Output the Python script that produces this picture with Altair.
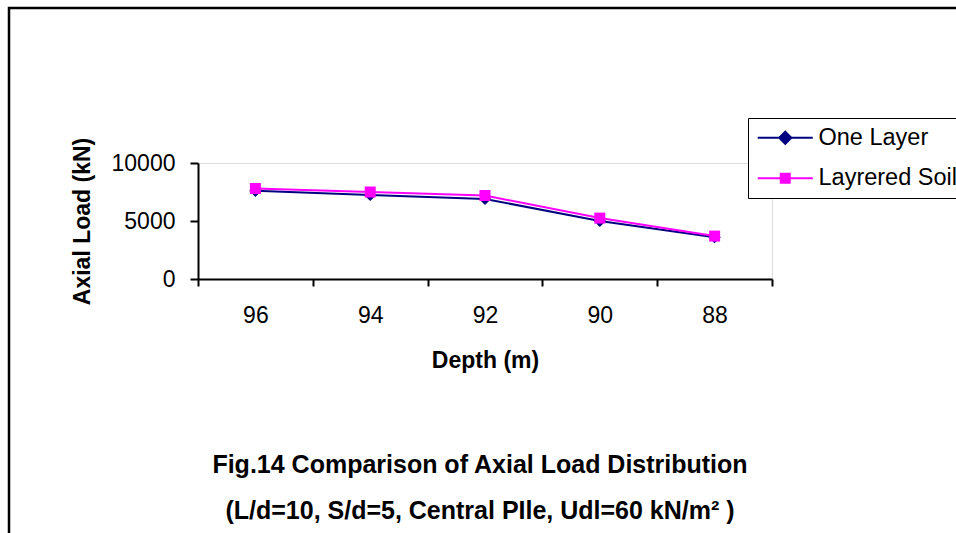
import altair as alt
import pandas as pd

depths = ["96", "94", "92", "90", "88"]
one_layer = [7600, 7250, 6900, 5000, 3600]
layered = [7800, 7500, 7200, 5250, 3700]
series_names = ["One Layer", "Layrered Soil"]
series_colors = ["#000080", "#FF00FF"]
y_ticks = [0, 5000, 10000]

rows = []
for d, v in zip(depths, one_layer):
    rows.append({"depth": d, "load": v, "series": series_names[0], "lg": series_names[0]})
for d, v in zip(depths, layered):
    rows.append({"depth": d, "load": v, "series": series_names[1], "lg": series_names[1]})
df = pd.DataFrame(rows)

FONT = "Liberation Sans"
FS = 23

x_enc = alt.X(
    "depth:N",
    sort=depths,
    bandPosition=0.5,
    scale=alt.Scale(type="band", paddingInner=0, paddingOuter=0),
    axis=alt.Axis(
        title="Depth (m)", labelAngle=0, tickBand="extent", tickSize=7,
        tickColor="black", tickWidth=2, domainColor="black", domainWidth=2,
        labelFontSize=FS, labelFont=FONT, labelColor="black", labelPadding=18,
        titleFontSize=FS, titleFont=FONT, titleFontWeight="bold", titleColor="black",
        titlePadding=22,
    ),
)
y_enc = alt.Y(
    "load:Q",
    scale=alt.Scale(domain=[0, 10000], nice=False),
    axis=alt.Axis(
        title="Axial Load (kN)", values=y_ticks, format="d", grid=False, tickSize=8,
        tickColor="black", tickWidth=2, domainColor="black", domainWidth=2,
        labelFontSize=FS, labelFont=FONT, labelColor="black", labelPadding=15,
        titleFontSize=FS, titleFont=FONT, titleFontWeight="bold", titleColor="black",
        titlePadding=17,
    ),
)
color_scale = alt.Scale(domain=series_names, range=series_colors)

base = alt.Chart(df)

lines = base.mark_line(strokeWidth=2).encode(
    x=x_enc, y=y_enc,
    color=alt.Color("series:N", scale=color_scale, legend=None),
    detail="series:N",
)
points = base.mark_point(filled=True, opacity=1).encode(
    x=x_enc, y=y_enc,
    color=alt.Color("series:N", scale=color_scale, legend=None),
    shape=alt.Shape("series:N", scale=alt.Scale(domain=series_names, range=["diamond", "square"]), legend=None),
    size=alt.Size("series:N", scale=alt.Scale(domain=series_names, range=[150, 121]), legend=None),
)

legend_paths = [
    "M-3.67,-0.133H3.67V0.133H-3.67Z M0,-1L1,0L0,1L-1,0Z",
    "M-3.67,-0.133H3.67V0.133H-3.67Z M-0.73,-0.73H0.73V0.73H-0.73Z",
]
legend_layer = base.transform_filter("false").mark_point(filled=True, opacity=1).encode(
    x=x_enc, y=y_enc,
    color=alt.Color("lg:N", scale=color_scale, legend=alt.Legend(
        title=None, orient="none", legendX=550, legendY=-45,
        strokeColor="black", fillColor="white",
        padding=8, symbolSize=225, symbolOffset=17.5, labelOffset=21.5,
        labelFontSize=23.5, labelFont=FONT, labelColor="black", rowPadding=15.5,
        labelLimit=500, symbolStrokeWidth=0,
    )),
    shape=alt.Shape("lg:N", scale=alt.Scale(domain=series_names, range=legend_paths)),
)

frame = alt.Chart(pd.DataFrame({"a": [0]})).mark_rect(
    fill="transparent", stroke="black", strokeWidth=2.5, clip=False
).encode(
    x=alt.value(-189), y=alt.value(-155), x2=alt.value(760), y2=alt.value(372)
)

chart = alt.layer(frame, lines, points, legend_layer).resolve_scale(
    color="independent", shape="independent", size="independent"
).resolve_legend(color="independent", shape="independent", size="independent").properties(
    width=574, height=116,
    autosize=alt.AutoSizeParams(type="none"),
    padding={"left": 198, "top": 163, "right": 184, "bottom": 254},
    title=alt.Title(
        text=["Fig.14 Comparison of Axial Load Distribution",
              "(L/d=10, S/d=5, Central PIle, Udl=60 kN/m² )"],
        orient="bottom", anchor="middle", frame="group", dx=-5, offset=-83,
        fontSize=25, font=FONT, fontWeight="bold", color="black", lineHeight=46,
    ),
).configure_view(stroke="#808080", strokeWidth=2).configure_legend(
    strokeWidth=2
).configure(background="white")

chart.save("out.html", embed_options={"renderer": "svg", "actions": False})
